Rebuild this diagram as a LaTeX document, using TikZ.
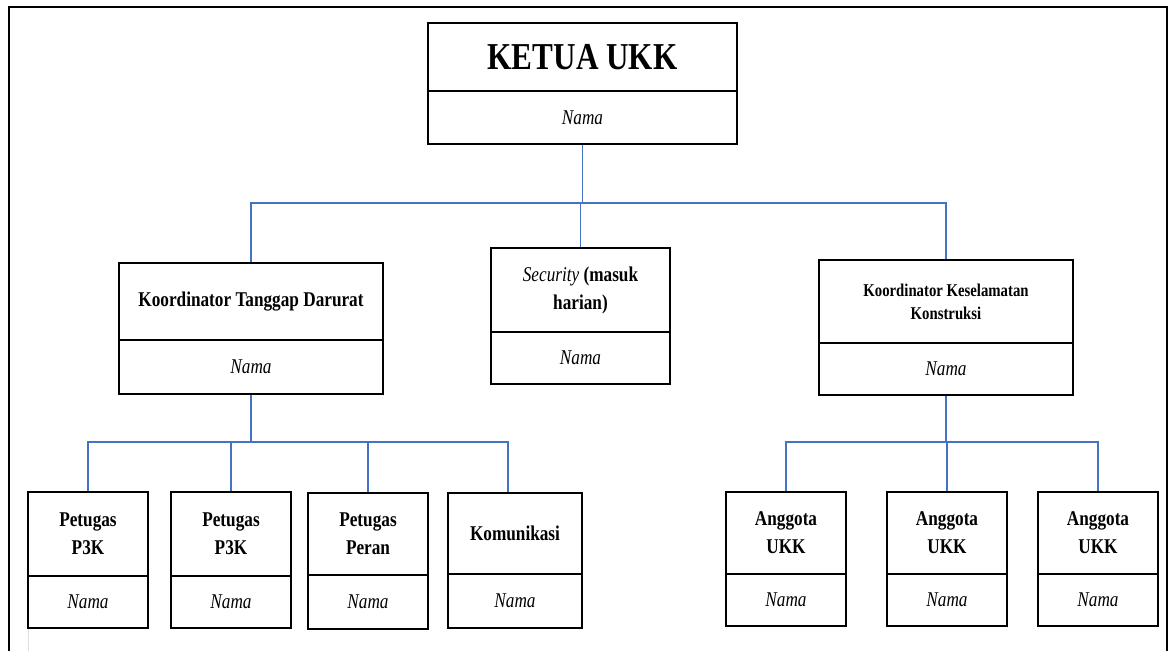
\documentclass[tikz,border=0pt]{standalone}
\usepackage{fontspec}
\setmainfont{Liberation Serif}[FakeStretch=0.82]
\definecolor{connblue}{HTML}{4472C4}
\tikzset{
  box/.style={draw=black, line width=2pt, rectangle, inner sep=2pt, anchor=north west,
    align=center, font=\fontsize{21}{28}\selectfont\bfseries},
  namebox/.style={box, font=\fontsize{21}{28}\selectfont\itshape},
  titlefont/.style={font=\fontsize{38}{40}\selectfont\bfseries},
  smallfont/.style={font=\fontsize{18}{23}\selectfont\bfseries},
  link/.style={draw=connblue, line width=1.6pt},
  frame/.style={draw=black, line width=2pt},
}
\begin{document}
\begin{tikzpicture}[x=1pt, y=-1pt]
\useasboundingbox (0,0) rectangle (1170,651);
% outer frame
\draw[frame] (9,651) -- (9,7) -- (1167,7) -- (1167,651);
\draw[gray!25, line width=1pt] (28,629) -- (28,651);

% Ketua
\node[box, titlefont, minimum width=309pt, minimum height=68pt] (ketT) at (427,22) {KETUA UKK};
\node[namebox, minimum width=309pt, minimum height=53pt] (ketB) at (427,90) {Nama};

% second level
\node[box, minimum width=264pt, minimum height=77pt] (ktdT) at (118,262) {Koordinator Tanggap Darurat};
\node[namebox, minimum width=264pt, minimum height=54pt] (ktdB) at (118,339) {Nama};

\node[box, minimum width=179pt, minimum height=84pt] (secT) at (490,247) {{\mdseries\itshape Security} (masuk\\harian)};
\node[namebox, minimum width=179pt, minimum height=52pt] (secB) at (490,331) {Nama};

\node[box, smallfont, minimum width=254pt, minimum height=83pt] (kkkT) at (818,259) {Koordinator Keselamatan\\Konstruksi};
\node[namebox, minimum width=254pt, minimum height=52pt] (kkkB) at (818,342) {Nama};

% third level left
\node[box, minimum width=120pt, minimum height=84pt] (p1T) at (27,491) {Petugas\\P3K};
\node[namebox, minimum width=120pt, minimum height=52pt] (p1B) at (27,575) {Nama};
\node[box, minimum width=120pt, minimum height=84pt] (p2T) at (170,491) {Petugas\\P3K};
\node[namebox, minimum width=120pt, minimum height=52pt] (p2B) at (170,575) {Nama};
\node[box, minimum width=120pt, minimum height=82pt] (perT) at (307,492) {Petugas\\Peran};
\node[namebox, minimum width=120pt, minimum height=54pt] (perB) at (307,574) {Nama};
\node[box, minimum width=134pt, minimum height=81pt] (komT) at (447,492) {Komunikasi};
\node[namebox, minimum width=134pt, minimum height=54pt] (komB) at (447,573) {Nama};

% third level right
\node[box, minimum width=120pt, minimum height=82pt] (a1T) at (725,491) {Anggota\\UKK};
\node[namebox, minimum width=120pt, minimum height=52pt] (a1B) at (725,573) {Nama};
\node[box, minimum width=120pt, minimum height=82pt] (a2T) at (886,491) {Anggota\\UKK};
\node[namebox, minimum width=120pt, minimum height=52pt] (a2B) at (886,573) {Nama};
\node[box, minimum width=120pt, minimum height=82pt] (a3T) at (1037,491) {Anggota\\UKK};
\node[namebox, minimum width=120pt, minimum height=52pt] (a3B) at (1037,573) {Nama};

% buses
\coordinate (busTop) at (0,203);
\coordinate (busLeft) at (0,442);
\coordinate (busRight) at (0,442);

% connectors level 1
\draw[link] (ketB.south) -- (ketB.south |- busTop);
\draw[link] (ktdT.north) -- (ktdT.north |- busTop) -- (kkkT.north |- busTop) -- (kkkT.north);
\draw[link] (secT.north) -- (secT.north |- busTop);

% connectors left group
\draw[link] (ktdB.south) -- (ktdB.south |- busLeft);
\draw[link] (p1T.north) -- (p1T.north |- busLeft) -- ([xshift=-7pt]komT.north |- busLeft) -- ([xshift=-7pt]komT.north);
\draw[link] (p2T.north) -- (p2T.north |- busLeft);
\draw[link] (perT.north) -- (perT.north |- busLeft);

% connectors right group
\draw[link] (kkkB.south) -- (kkkB.south |- busRight);
\draw[link] (a1T.north) -- (a1T.north |- busRight) -- (a3T.north |- busRight) -- (a3T.north);
\draw[link] (a2T.north) -- (a2T.north |- busRight);
\end{tikzpicture}
\end{document}
